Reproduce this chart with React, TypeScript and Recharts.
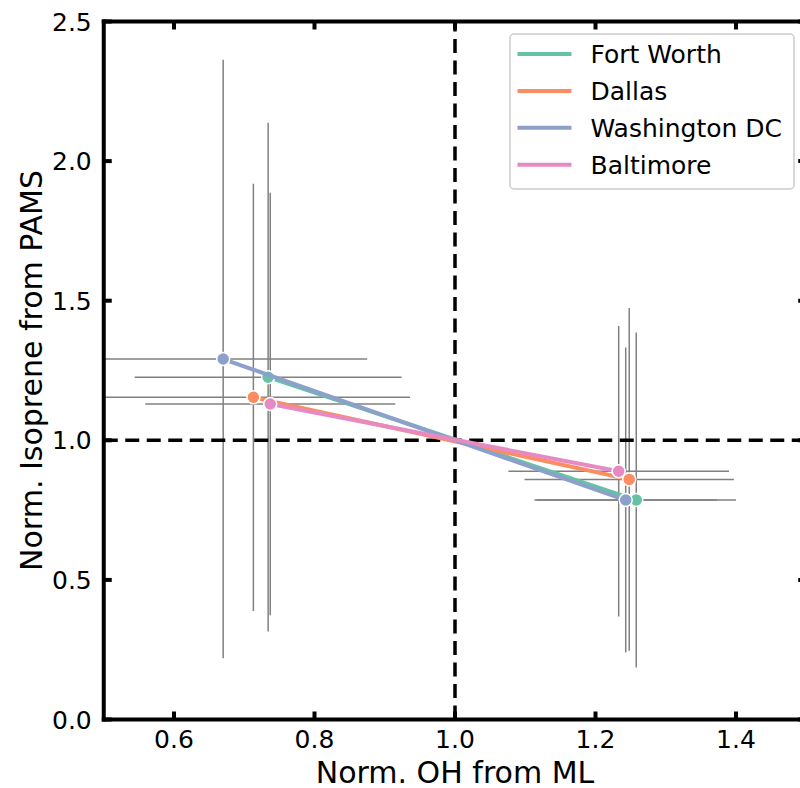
import React from 'react';
import { ComposedChart, Scatter, XAxis, YAxis, ErrorBar, ReferenceLine, Legend } from 'recharts';

const cities = ['Fort Worth', 'Dallas', 'Washington DC', 'Baltimore'];
const colors = ['#66c2a5', '#fc8d62', '#8da0cb', '#e78ac3'];

// low-OH end of each city
const ohLow = [0.734, 0.713, 0.67, 0.737];
const ohLowErr = [0.19, 0.223, 0.205, 0.178];
const isoLow = [1.226, 1.154, 1.291, 1.13];
const isoLowErr = [0.911, 0.765, 1.072, 0.757];

// high-OH end
const ohHigh = [1.258, 1.248, 1.243, 1.233];
const ohHighErr = [0.142, 0.149, 0.13, 0.157];
const isoHigh = [0.786, 0.86, 0.786, 0.889];
const isoHighErr = [0.6, 0.614, 0.546, 0.52];

const xTicks = [0.6, 0.8, 1.0, 1.2, 1.4];
const yTicks = [0, 0.5, 1.0, 1.5, 2.0, 2.5];
const X_MIN = 0.5;
const X_MAX = 1.5;

const FONT = '"DejaVu Sans", sans-serif';
const W = 820;
const H = 788;
const TOP = 21.5;
const LEFT = 103.75;
const RIGHT = 806.25;
const BOTTOM = 719.5;
const TICK = 8;

// x error bars are cut at the axes limits, like the plot clips them
const point = (x: number, y: number, ex: number, ey: number) => ({
  x,
  y,
  ey,
  exr: [Math.min(ex, x - X_MIN), Math.min(ex, X_MAX - x)],
});

const pointsOf = (i: number) => [
  point(ohLow[i], isoLow[i], ohLowErr[i], isoLowErr[i]),
  point(ohHigh[i], isoHigh[i], ohHighErr[i], isoHighErr[i]),
];

const XTick = (props: any) => {
  const { x, y, payload } = props;
  return (
    <g>
      <line x1={x} y1={y} x2={x} y2={y - TICK} stroke="#000" strokeWidth={4} />
      <line x1={x} y1={TOP} x2={x} y2={TOP + TICK} stroke="#000" strokeWidth={4} />
      <text x={x} y={y + 28.5} textAnchor="middle" fontSize={25} fill="#000" fontFamily={FONT}>
        {Number(payload.value).toFixed(1)}
      </text>
    </g>
  );
};

const YTick = (props: any) => {
  const { x, y, payload } = props;
  return (
    <g>
      <line x1={x} y1={y} x2={x + TICK} y2={y} stroke="#000" strokeWidth={4} />
      <line x1={RIGHT} y1={y} x2={RIGHT - TICK} y2={y} stroke="#000" strokeWidth={4} />
      <text x={x - 12} y={y + 9} textAnchor="end" fontSize={25} fill="#000" fontFamily={FONT}>
        {Number(payload.value).toFixed(1)}
      </text>
    </g>
  );
};

const LegendBox = () => (
  <svg width={288} height={158} style={{ display: 'block' }}>
    <rect x={1} y={1} width={284} height={155} rx={4} fill="#fff" fillOpacity={0.8} stroke="#cccccc" strokeWidth={1.5} />
    {cities.map((c, i) => {
      const cy = 21 + i * 36.9;
      return (
        <g key={c}>
          <line x1={8.5} y1={cy} x2={62.5} y2={cy} stroke={colors[i]} strokeWidth={4} />
          <text x={81.5} y={cy + 9} fontSize={25} fill="#000" fontFamily={FONT}>
            {c}
          </text>
        </g>
      );
    })}
  </svg>
);

export default function App() {
  return (
    <div
      style={{
        position: 'fixed',
        left: 0,
        top: 0,
        width: 800,
        height: 788,
        overflow: 'hidden',
        background: '#fff',
        fontFamily: FONT,
      }}
    >
      <ComposedChart width={W} height={H} margin={{ top: TOP, right: W - RIGHT, bottom: 0, left: 0 }}>
        <XAxis
          type="number"
          dataKey="x"
          domain={[X_MIN, X_MAX]}
          allowDataOverflow
          ticks={xTicks}
          height={H - BOTTOM}
          tickSize={0}
          tickMargin={0}
          tick={<XTick />}
          tickLine={false}
          axisLine={{ stroke: '#000', strokeWidth: 4, strokeLinecap: 'square' }}
          label={(p: any) => {
            const vb = p.viewBox;
            return (
              <text x={vb.x + vb.width / 2} y={vb.y + 63} textAnchor="middle" fontSize={30} fill="#000" fontFamily={FONT}>
                Norm. OH from ML
              </text>
            );
          }}
        />
        <YAxis
          type="number"
          dataKey="y"
          domain={[0, 2.5]}
          allowDataOverflow
          ticks={yTicks}
          width={LEFT}
          tickSize={0}
          tickMargin={0}
          tick={<YTick />}
          tickLine={false}
          axisLine={{ stroke: '#000', strokeWidth: 4, strokeLinecap: 'square' }}
          label={(p: any) => {
            const vb = p.viewBox;
            const cx = vb.x + 42;
            const cy = vb.y + vb.height / 2;
            return (
              <text
                x={cx}
                y={cy}
                transform={`rotate(-90 ${cx} ${cy})`}
                textAnchor="middle"
                fontSize={30}
                fill="#000"
                fontFamily={FONT}
              >
                Norm. Isoprene from PAMS
              </text>
            );
          }}
        />
        <ReferenceLine y={2.5} stroke="#000" strokeWidth={4} strokeLinecap="square" />
        <ReferenceLine x={1.5} stroke="#000" strokeWidth={4} strokeLinecap="square" />

        {cities.map((c, i) => (
          <Scatter
            key={'err-' + c}
            data={pointsOf(i)}
            shape={() => <g />}
            legendType="none"
            isAnimationActive={false}
          >
            <ErrorBar dataKey="exr" direction="x" width={0} stroke="#808080" strokeWidth={1.5} isAnimationActive={false} />
            <ErrorBar dataKey="ey" direction="y" width={0} stroke="#808080" strokeWidth={1.5} isAnimationActive={false} />
          </Scatter>
        ))}

        <ReferenceLine x={1} stroke="#000" strokeWidth={3.5} strokeDasharray="14 7.5" />
        <ReferenceLine y={1} stroke="#000" strokeWidth={3.5} strokeDasharray="14 7.5" />

        {cities.map((c, i) => (
          <Scatter
            key={c}
            name={c}
            data={pointsOf(i)}
            fill={colors[i]}
            line={{ stroke: colors[i], strokeWidth: 4 }}
            lineType="joint"
            isAnimationActive={false}
            shape={(p: any) => (
              <circle cx={p.cx} cy={p.cy} r={6.5} fill={colors[i]} stroke="#fff" strokeWidth={1.5} />
            )}
          />
        ))}

        <Legend
          layout="horizontal"
          verticalAlign="middle"
          align="center"
          content={<LegendBox />}
          wrapperStyle={{ left: 509, top: 33, width: 288, height: 158 }}
        />
      </ComposedChart>
    </div>
  );
}
